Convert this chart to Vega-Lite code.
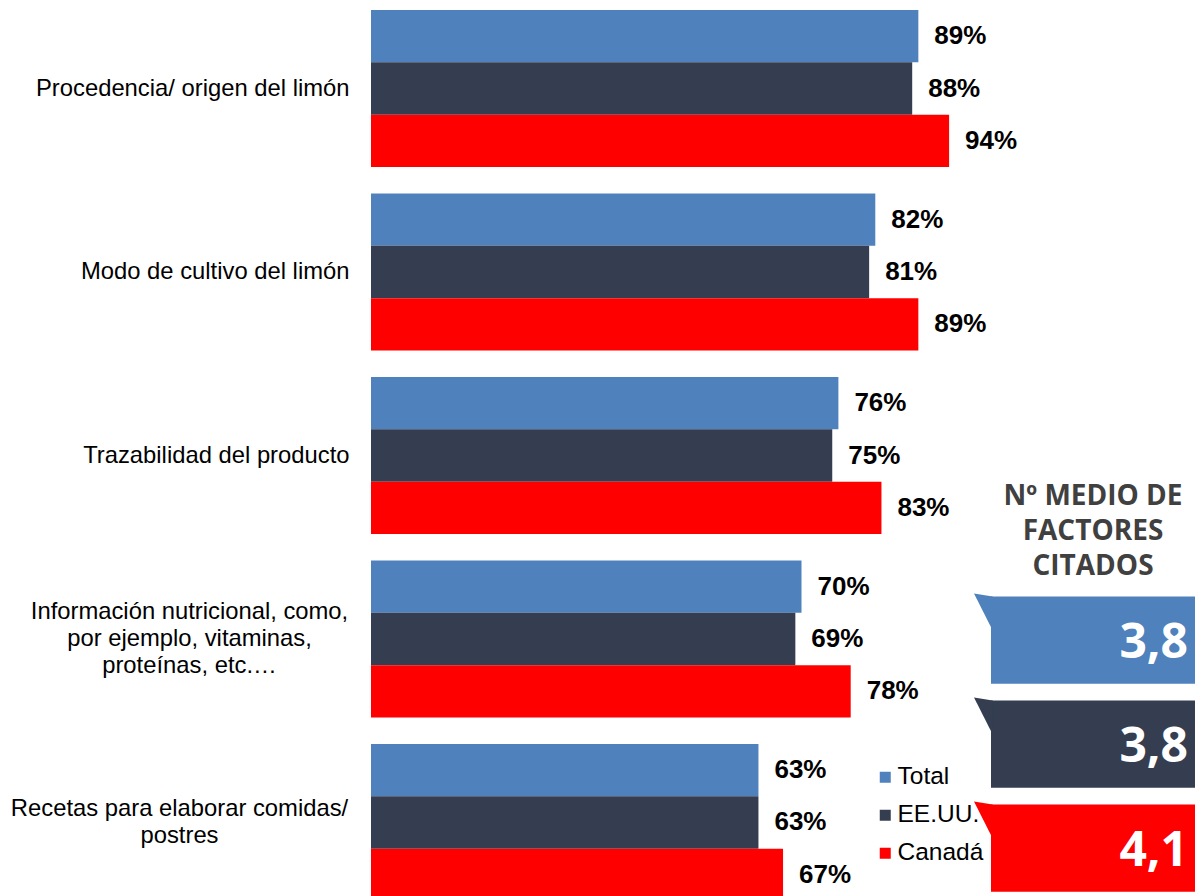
{
  "$schema": "https://vega.github.io/schema/vega-lite/v6.json",
  "autosize": {"type": "pad"},
  "padding": {"left": 10, "top": 0, "right": 0, "bottom": 0},
  "background": "white",
  "bounds": "flush",
  "spacing": 5,
  "config": {"view": {"stroke": null}, "font": "Liberation Sans"},
  "datasets": {
    "bars": [
      {"factor": "Procedencia/ origen del limón", "series": "Total", "value": 89, "pct": "89%"},
      {"factor": "Procedencia/ origen del limón", "series": "EE.UU.", "value": 88, "pct": "88%"},
      {"factor": "Procedencia/ origen del limón", "series": "Canadá", "value": 94, "pct": "94%"},
      {"factor": "Modo de cultivo del limón", "series": "Total", "value": 82, "pct": "82%"},
      {"factor": "Modo de cultivo del limón", "series": "EE.UU.", "value": 81, "pct": "81%"},
      {"factor": "Modo de cultivo del limón", "series": "Canadá", "value": 89, "pct": "89%"},
      {"factor": "Trazabilidad del producto", "series": "Total", "value": 76, "pct": "76%"},
      {"factor": "Trazabilidad del producto", "series": "EE.UU.", "value": 75, "pct": "75%"},
      {"factor": "Trazabilidad del producto", "series": "Canadá", "value": 83, "pct": "83%"},
      {"factor": "Información nutricional, como,|por ejemplo, vitaminas,|proteínas, etc.…", "series": "Total", "value": 70, "pct": "70%"},
      {"factor": "Información nutricional, como,|por ejemplo, vitaminas,|proteínas, etc.…", "series": "EE.UU.", "value": 69, "pct": "69%"},
      {"factor": "Información nutricional, como,|por ejemplo, vitaminas,|proteínas, etc.…", "series": "Canadá", "value": 78, "pct": "78%"},
      {"factor": "Recetas para elaborar comidas/|postres", "series": "Total", "value": 63, "pct": "63%"},
      {"factor": "Recetas para elaborar comidas/|postres", "series": "EE.UU.", "value": 63, "pct": "63%"},
      {"factor": "Recetas para elaborar comidas/|postres", "series": "Canadá", "value": 67, "pct": "67%"}
    ],
    "panel": [
      {"series": "Total", "num": "3,8"},
      {"series": "EE.UU.", "num": "3,8"},
      {"series": "Canadá", "num": "4,1"}
    ],
    "header": [
      {"series": "hdr", "text": "Nº MEDIO DE\nFACTORES\nCITADOS"}
    ]
  },
  "hconcat": [
    {
      "width": 615,
      "height": 911,
      "data": {"name": "bars"},
      "encoding": {
        "y": {
          "field": "factor", "type": "nominal", "sort": null,
          "scale": {"paddingInner": 0.144, "paddingOuter": 0.0545},
          "axis": {
            "title": null, "domain": false, "ticks": false,
            "labelFontSize": 23.8, "labelFont": "Liberation Sans", "labelColor": "black",
            "labelLimit": 500, "labelLineHeight": 27, "labelBaseline": "middle",
            "labelExpr": "split(datum.value, '|')",
            "labelAlign": {"condition": {"test": "datum.value == 'Información nutricional, como,|por ejemplo, vitaminas,|proteínas, etc.…' || datum.value == 'Recetas para elaborar comidas/|postres'", "value": "center"}, "value": "right"},
            "labelPadding": {"condition": [
              {"test": "datum.value == 'Información nutricional, como,|por ejemplo, vitaminas,|proteínas, etc.…'", "value": 182},
              {"test": "datum.value == 'Recetas para elaborar comidas/|postres'", "value": 192}
            ], "value": 22},
            "labelOffset": {"condition": [
              {"test": "datum.value == 'Información nutricional, como,|por ejemplo, vitaminas,|proteínas, etc.…'", "value": -27},
              {"test": "datum.value == 'Recetas para elaborar comidas/|postres'", "value": -13.5}
            ], "value": 0}
          }
        },
        "yOffset": {"field": "series", "type": "nominal", "sort": ["Total", "EE.UU.", "Canadá"]},
        "x": {"field": "value", "type": "quantitative", "scale": {"domain": [0, 100], "nice": false}, "axis": null}
      },
      "layer": [
        {
          "mark": {"type": "bar"},
          "encoding": {
            "color": {
              "field": "series", "type": "nominal",
              "scale": {"domain": ["Total", "EE.UU.", "Canadá"], "range": ["#4F81BD", "#343E50", "#FF0000"]},
              "legend": {
                "orient": "none", "legendX": 502, "legendY": 765, "title": null,
                "symbolType": "square", "symbolSize": 121, "symbolStrokeWidth": 0,
                "labelFontSize": 24.5, "labelFont": "Liberation Sans", "labelColor": "black",
                "rowPadding": 13, "labelOffset": 0, "padding": 0
              }
            }
          }
        },
        {
          "mark": {"type": "text", "align": "left", "baseline": "middle", "dx": 16, "fontSize": 26, "fontWeight": "bold", "color": "black", "font": "Liberation Sans"},
          "encoding": {"text": {"field": "pct", "type": "nominal"}}
        }
      ]
    },
    {
      "width": 204,
      "height": 911,
      "encoding": {
        "y": {
          "field": "series", "type": "nominal",
          "scale": {"domain": ["s1", "s2", "s3", "s4", "hdr", "Total", "EE.UU.", "Canadá"], "paddingInner": 0.16, "paddingOuter": 0.46, "align": 0.8},
          "axis": null
        }
      },
      "layer": [
        {
          "data": {"name": "panel"},
          "mark": {"type": "rect"},
          "encoding": {
            "color": {"field": "series", "type": "nominal", "scale": {"domain": ["Total", "EE.UU.", "Canadá"], "range": ["#4F81BD", "#343E50", "#FF0000"]}}
          }
        },
        {
          "data": {"name": "panel"},
          "mark": {"type": "point", "shape": "M -0.5 -0.09 L 0.05 0 L 0.05 1 Z", "size": 4624, "filled": true, "opacity": 1, "strokeWidth": 0},
          "encoding": {
            "y": {"field": "series", "type": "nominal", "bandPosition": 0},
            "x": {"value": 0},
            "color": {"field": "series", "type": "nominal"}
          }
        },
        {
          "data": {"name": "panel"},
          "mark": {"type": "text", "align": "right", "baseline": "alphabetic", "dy": 17.5, "dx": -7, "fontSize": 48, "fontWeight": "bold", "font": "Open Sans", "color": "white"},
          "encoding": {
            "x": {"value": "width"},
            "text": {"field": "num", "type": "nominal"}
          }
        },
        {
          "data": {"name": "header"},
          "mark": {"type": "text", "align": "center", "baseline": "alphabetic", "dy": -31, "lineBreak": "\n", "lineHeight": 35, "fontSize": 28, "fontWeight": "bold", "font": "Open Sans", "color": "#404040"},
          "encoding": {
            "text": {"field": "text", "type": "nominal"}
          }
        }
      ]
    }
  ]
}
